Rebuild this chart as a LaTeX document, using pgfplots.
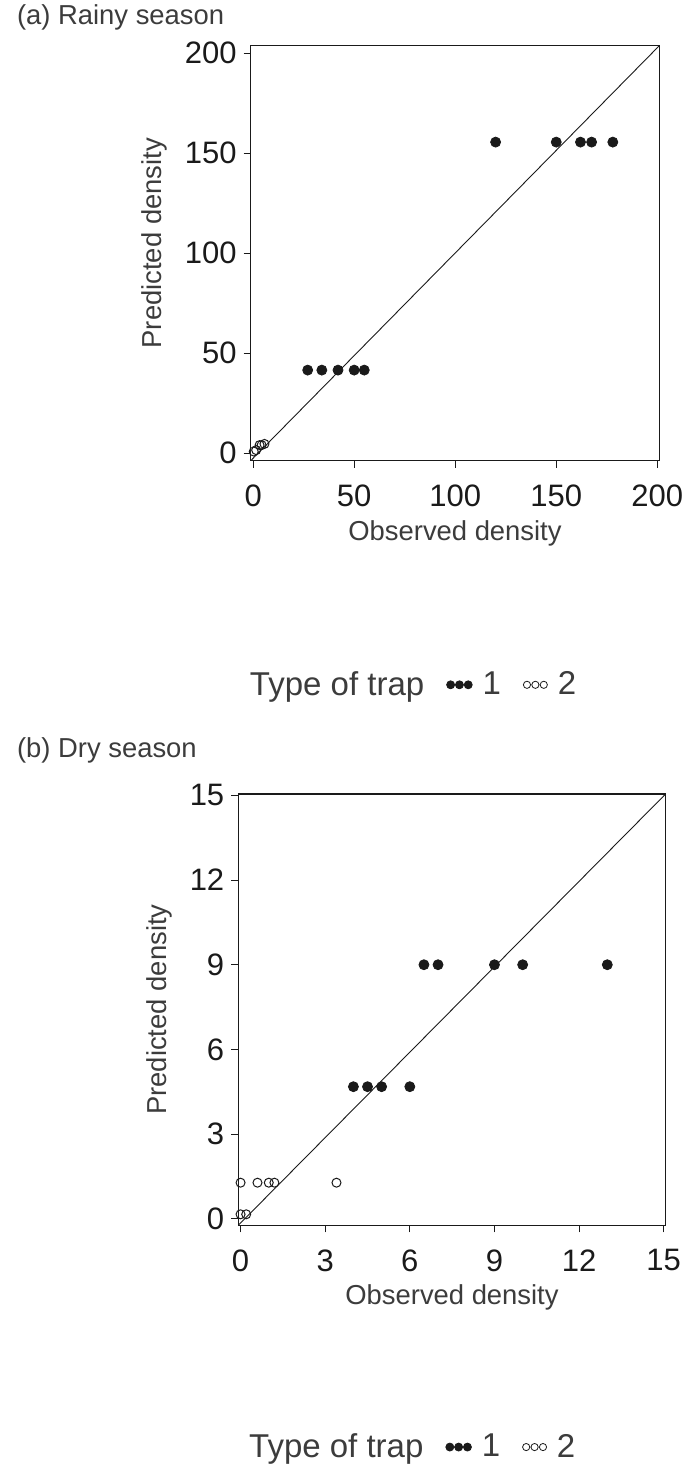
\documentclass[border=0pt]{standalone}
\usepackage{fontspec}
\setmainfont{Liberation Sans}
\usepackage{pgfplots}
\pgfplotsset{compat=1.18}

\definecolor{ink}{HTML}{1A1A1A}

\pgfplotsset{
  obspred/.style={
    scale only axis,
    anchor=south west,
    axis line style={ink, line width=0.6pt},
    tick align=outside,
    major tick length=3.5pt,
    tick style={ink, line width=0.5pt},
    xtick pos=bottom, ytick pos=left,
    /pgf/number format/assume math mode=true,
    ticklabel style={font=\fontsize{15.5}{18}\selectfont, text=ink},
    xticklabel style={yshift=-5pt},
    label style={font=\fontsize{13.7}{16}\selectfont, text=ink!85},
    xlabel style={yshift=0pt},
    ylabel style={yshift=2pt},
    xlabel={Observed density},
    ylabel={Predicted density},
    legend columns=-1,
    legend style={draw=none, fill=none, font=\fontsize{16.5}{19}\selectfont,
      text=ink!85,
      /tikz/every odd column/.append style={column sep=3pt},
      /tikz/every even column/.append style={column sep=9pt}},
  },
  trap1/.style={only marks, mark=*, mark size=2.5pt, ink, mark options={fill=ink, draw=ink},
    legend image code/.code={\fill[ink] (0pt,0pt) circle (2pt) (4.4pt,0pt) circle (2pt) (8.8pt,0pt) circle (2pt);}},
  trap2/.style={only marks, mark=o, mark size=2.25pt, ink, mark options={draw=ink, line width=0.5pt, fill=white},
    legend image code/.code={\draw[ink, line width=0.4pt] (0pt,0pt) circle (1.8pt) (4.2pt,0pt) circle (1.8pt) (8.4pt,0pt) circle (1.8pt);}},
  diag/.style={ink, line width=0.45pt, forget plot},
}

\begin{document}
\begin{tikzpicture}
\useasboundingbox (0,0) rectangle (348.5pt,-741.5pt);

\node[anchor=west, text=ink!85, font=\fontsize{13.7}{16}\selectfont] at (5pt,-8.5pt) {(a) Rainy season};
\node[anchor=west, text=ink!85, font=\fontsize{13.7}{16}\selectfont] at (5pt,-375pt) {(b) Dry season};

% (a) Rainy season
\begin{axis}[obspred,
  at={(125.35pt,-230.35pt)},
  width=204.3pt, height=207.5pt,
  xmin=-1.2, xmax=201, ymin=-3.8, ymax=203.7,
  xtick={0,50,...,200}, ytick={0,50,...,200},
  ylabel style={xshift=5pt},
  legend style={at={(0.39,-0.54)}, anchor=center},
]
\addplot[diag] coordinates {(-1.2,-3.8) (201,203.7)};
\addlegendimage{empty legend}
\addlegendentry{Type of trap}
\addplot[trap1] coordinates {
  (27,41.5) (34,41.5) (42,41.5) (50,41.5) (55,41.5)
  (120,155.5) (150,155.5) (162,155.5) (167.5,155.5) (178,155.5)
};
\addlegendentry{1}
\addplot[trap2] coordinates {
  (0.3,0.8) (1.5,1.5) (3.2,4) (4.2,4) (5.6,4.6)
};
\addlegendentry{2}
\end{axis}

% (b) Dry season
\begin{axis}[obspred,
  at={(119.15pt,-612.65pt)},
  width=213.7pt, height=215.7pt,
  xmin=-0.08, xmax=15.07, ymin=-0.23, ymax=15.05,
  xtick={0,3,...,15}, ytick={0,3,...,15},
  legend style={at={(0.40,-0.514)}, anchor=center},
]
\addplot[diag] coordinates {(-0.08,-0.23) (15.07,15.05)};
\addlegendimage{empty legend}
\addlegendentry{Type of trap}
\addplot[trap1] coordinates {
  (4,4.68) (4.5,4.68) (5,4.68) (6,4.68)
  (6.5,9) (7,9) (9,9) (10,9) (13,9)
};
\addlegendentry{1}
\addplot[trap2] coordinates {
  (0,0.16) (0.2,0.16)
  (0,1.28) (0.6,1.28) (1,1.28) (1.2,1.28) (3.4,1.28)
};
\addlegendentry{2}
\end{axis}
\end{tikzpicture}
\end{document}
